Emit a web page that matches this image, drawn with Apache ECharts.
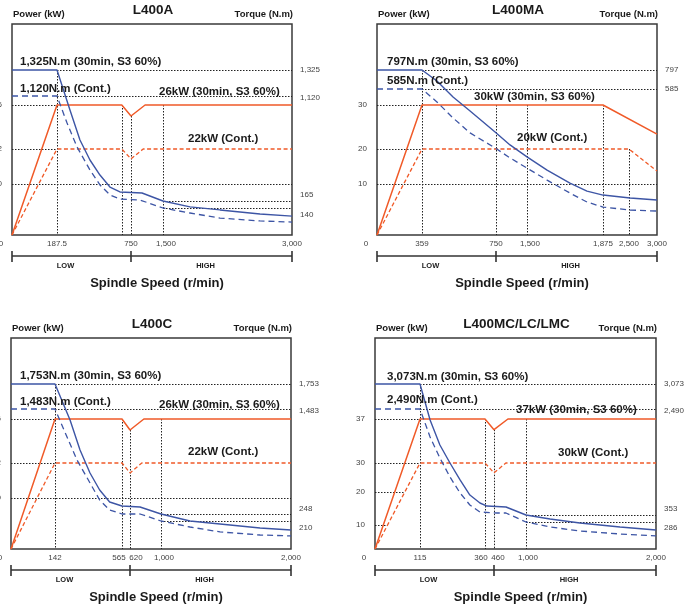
<!DOCTYPE html>
<html>
<head>
<meta charset="utf-8">
<script src="https://cdn.jsdelivr.net/npm/echarts@6/dist/echarts.min.js"></script>
<style>
  html, body { margin: 0; padding: 0; background: #fff; }
  #main { width: 690px; height: 609px; }
</style>
</head>
<body>
<div id="main"></div>
<script>
// ---------- data (speed in r/min, power in kW, torque in N.m) ----------
// L400A
const aSpeedTicks = [0, 187.5, 750, 1500, 3000];
const aPowerTicks = [10, 22, 26];
const aTorqueTicks = [140, 165, 1120, 1325];
const aPowerMax = [[0, 0], [187.5, 26], [680, 26], [750, 25], [1080, 26], [3000, 26]];
const aPowerCont = [[0, 0], [187.5, 22], [680, 22], [750, 18.6], [1035, 22], [3000, 22]];
const aTorqueMax = [[0, 1325], [187.5, 1325], [286, 993], [362, 720], [438, 538], [514, 401], [590, 292], [666, 247], [1008, 238], [1500, 165], [1814, 144], [2163, 130], [2628, 109], [3000, 98]];
const aTorqueCont = [[0, 1120], [187.5, 1120], [264, 874], [340, 656], [438, 447], [514, 311], [590, 220], [666, 183], [961, 174], [1500, 140], [1814, 114], [2163, 88], [2628, 73], [3000, 67]];
const aGears = [0, 750, 3000];

// L400MA
const maSpeedTicks = [0, 359, 750, 1500, 1875, 2500, 3000];
const maPowerTicks = [10, 20, 30];
const maTorqueTicks = [585, 797];
const maPowerMax = [[0, 0], [359, 30], [1875, 30], [3000, 23.4]];
const maPowerCont = [[0, 0], [359, 20], [2500, 20], [3000, 13.7]];
const maTorqueMax = [[0, 797], [359, 797], [438, 674], [523, 553], [613, 497], [745, 413], [1089, 361], [1500, 313], [1599, 260], [1712, 208], [1796, 176], [1875, 160], [2520, 148], [3000, 140]];
const maTorqueCont = [[0, 585], [359, 585], [438, 533], [523, 469], [613, 409], [745, 349], [1089, 309], [1500, 268], [1599, 220], [1712, 168], [1796, 132], [1875, 112], [2520, 100], [3000, 96]];
const maGears = [0, 750, 3000];

// L400C
const cSpeedTicks = [0, 142, 565, 620, 1000, 2000];
const cPowerTicks = [10, 22, 26];
const cTorqueTicks = [210, 248, 1483, 1753];
const cPowerMax = [[0, 0], [142, 26], [565, 26], [620, 25], [790, 26], [2000, 26]];
const cPowerCont = [[0, 0], [142, 22], [565, 22], [620, 18.6], [765, 22], [2000, 22]];
const cTorqueMax = [[0, 1753], [142, 1753], [237, 1354], [300, 1001], [363, 730], [424, 530], [487, 389], [565, 342], [743, 330], [1000, 248], [1223, 210], [1454, 188], [1762, 158], [2000, 143]];
const cTorqueCont = [[0, 1483], [142, 1483], [218, 1154], [281, 883], [363, 613], [424, 413], [487, 295], [565, 248], [743, 248], [1000, 210], [1223, 165], [1454, 128], [1762, 105], [2000, 98]];
const cGears = [0, 620, 2000];

// L400MC/LC/LMC
const mcSpeedTicks = [0, 115, 360, 460, 1000, 2000];
const mcPowerTicks = [10, 20, 30, 37];
const mcTorqueTicks = [286, 353, 2490, 3073];
const mcPowerMax = [[0, 0], [115, 37], [360, 37], [460, 35.3], [695, 37], [2000, 37]];
const mcPowerCont = [[0, 0], [115, 30], [360, 30], [460, 26.6], [660, 30], [2000, 30]];
const mcTorqueMax = [[0, 3073], [115, 3073], [153, 2268], [190, 1764], [228, 1401], [266, 1059], [303, 756], [341, 595], [382, 534], [662, 514], [1000, 353], [1185, 315], [1415, 275], [1723, 233], [2000, 201]];
const mcTorqueCont = [[0, 2490], [115, 2490], [153, 1925], [190, 1502], [228, 1119], [266, 797], [303, 555], [341, 413], [511, 393], [662, 393], [1000, 286], [1185, 233], [1415, 191], [1723, 159], [2000, 138]];
const mcGears = [0, 460, 2000];

// ---------- schematic scales and layout ----------
const FONT = '"Liberation Sans", Arial, Helvetica, sans-serif';
const ORANGE = '#f05a28';
const BLUE = '#3d55a5';

const panels = [
  {
    title: 'L400A', box: [12, 24, 280, 211],
    speedScale: [[0, 0], [187.5, 45], [750, 119], [1500, 151], [3000, 280]],
    powerScale: [[0, 0], [10, 51], [22, 86], [26, 130]],
    torqueScale: [[0, 0], [140, 27], [165, 34], [1120, 139], [1325, 165]],
    speedTicks: aSpeedTicks, powerTicks: aPowerTicks, torqueTicks: aTorqueTicks,
    pMax: aPowerMax, pCont: aPowerCont, tMax: aTorqueMax, tCont: aTorqueCont, gears: aGears,
    hGuides: [['P', 26, 0, 187.5], ['P', 22, 0, 187.5], ['P', 10, 0, 3000], ['T', 1325, 187.5, 3000], ['T', 1120, 187.5, 3000], ['T', 165, 1500, 3000], ['T', 140, 1500, 3000]],
    vGuides: [[187.5, 'T', 1325], [680, 'P', 26], [750, 'P', 25], [1500, 'P', 26]],
    xShift: { 0: -11, 1500: 3 }, yShift: { 165: -6, 140: 7, 1120: 2 },
    notes: [['1,325N.m (30min, S3 60%)', 20, 62], ['1,120N.m (Cont.)', 20, 89], ['26kW (30min, S3 60%)', 159, 92], ['22kW (Cont.)', 188, 139]]
  },
  {
    title: 'L400MA', box: [377, 24, 280, 211],
    speedScale: [[0, 0], [359, 45], [750, 119], [1500, 150], [1875, 226], [2500, 252], [3000, 280]],
    powerScale: [[0, 0], [10, 51], [20, 86], [30, 130]],
    torqueScale: [[0, 0], [585, 146], [797, 165]],
    speedTicks: maSpeedTicks, powerTicks: maPowerTicks, torqueTicks: maTorqueTicks,
    pMax: maPowerMax, pCont: maPowerCont, tMax: maTorqueMax, tCont: maTorqueCont, gears: maGears,
    hGuides: [['P', 30, 0, 359], ['P', 20, 0, 359], ['P', 10, 0, 3000], ['T', 797, 359, 3000], ['T', 585, 359, 3000]],
    vGuides: [[359, 'T', 797], [750, 'P', 30], [1500, 'P', 30], [1875, 'P', 30], [2500, 'P', 20]],
    xShift: { 0: -11, 1500: 3 }, yShift: {},
    notes: [['797N.m (30min, S3 60%)', 387, 62], ['585N.m (Cont.)', 387, 81], ['30kW (30min, S3 60%)', 474, 97], ['20kW (Cont.)', 517, 138]]
  },
  {
    title: 'L400C', box: [11, 338, 280, 211],
    speedScale: [[0, 0], [142, 44], [565, 111], [620, 119], [1000, 150], [2000, 280]],
    powerScale: [[0, 0], [10, 51], [22, 86], [26, 130]],
    torqueScale: [[0, 0], [210, 28], [248, 35], [1483, 140], [1753, 165]],
    speedTicks: cSpeedTicks, powerTicks: cPowerTicks, torqueTicks: cTorqueTicks,
    pMax: cPowerMax, pCont: cPowerCont, tMax: cTorqueMax, tCont: cTorqueCont, gears: cGears,
    hGuides: [['P', 26, 0, 142], ['P', 22, 0, 142], ['P', 10, 0, 2000], ['T', 1753, 142, 2000], ['T', 1483, 142, 2000], ['T', 248, 1000, 2000], ['T', 210, 1000, 2000]],
    vGuides: [[142, 'T', 1753], [565, 'P', 26], [620, 'P', 25], [1000, 'P', 26]],
    xShift: { 0: -11, 565: -3, 620: 6, 1000: 3 }, yShift: { 248: -5, 210: 7, 1483: 2 },
    notes: [['1,753N.m (30min, S3 60%)', 20, 376], ['1,483N.m (Cont.)', 20, 402], ['26kW (30min, S3 60%)', 159, 405], ['22kW (Cont.)', 188, 452]]
  },
  {
    title: 'L400MC/LC/LMC', box: [375, 338, 281, 211],
    speedScale: [[0, 0], [115, 45], [360, 110], [460, 119], [1000, 151], [2000, 281]],
    powerScale: [[0, 0], [10, 24], [20, 57], [30, 86], [37, 130]],
    torqueScale: [[0, 0], [286, 27], [353, 34], [2490, 140], [3073, 165]],
    speedTicks: mcSpeedTicks, powerTicks: mcPowerTicks, torqueTicks: mcTorqueTicks,
    pMax: mcPowerMax, pCont: mcPowerCont, tMax: mcTorqueMax, tCont: mcTorqueCont, gears: mcGears,
    hGuides: [['P', 37, 0, 115], ['P', 30, 0, 115], ['P', 20, 0, 76], ['P', 10, 0, 32], ['T', 3073, 115, 2000], ['T', 2490, 115, 2000], ['T', 353, 1000, 2000], ['T', 286, 1000, 2000]],
    vGuides: [[115, 'T', 3073], [360, 'P', 37], [460, 'P', 35.3], [1000, 'P', 37]],
    xShift: { 0: -11, 360: -4, 460: 4, 1000: 2 }, yShift: { 353: -6, 286: 6, 2490: 2 },
    notes: [['3,073N.m (30min, S3 60%)', 387, 377], ['2,490N.m (Cont.)', 387, 400], ['37kW (30min, S3 60%)', 516, 410], ['30kW (Cont.)', 558, 453]]
  }
];

// piecewise linear schematic scale
function warp(v, stops) {
  let i = 1;
  while (i < stops.length - 1 && v > stops[i][0]) i++;
  const [v0, p0] = stops[i - 1], [v1, p1] = stops[i];
  return p0 + (v - v0) / (v1 - v0) * (p1 - p0);
}
function nearest(arr, v) {
  let k = 0;
  arr.forEach((a, i) => { if (Math.abs(a - v) < Math.abs(arr[k] - v)) k = i; });
  return k;
}
function fmt(n) { return n.toLocaleString('en-US'); }
function tagName(d) { return 's' + (d < 0 ? 'm' : 'p') + Math.abs(d); }
function shiftRich(base, shifts, vertical) {
  const rich = {};
  Object.values(shifts).forEach(d => {
    const pad = vertical
      ? (d > 0 ? [2 * d, 0, 0, 0] : [0, 0, -2 * d, 0])
      : (d > 0 ? [0, 0, 0, 2 * d] : [0, -2 * d, 0, 0]);
    rich[tagName(d)] = Object.assign({ padding: pad }, base);
  });
  return rich;
}

const tickFont = { fontSize: 8, color: '#444', fontFamily: FONT };
const grid = [], xAxis = [], yAxis = [], series = [];

panels.forEach((p, i) => {
  const [left, top, w, h] = p.box;
  const X = v => warp(v, p.speedScale);
  const P = v => warp(v, p.powerScale);
  const T = v => warp(v, p.torqueScale);
  const xVals = p.speedTicks.map(X);
  const pVals = p.powerTicks.map(P);
  const tVals = p.torqueTicks.map(T);

  grid.push({
    left, top, width: w, height: h, show: true, borderColor: '#3a3a3a', borderWidth: 1.5,
    containLabel: false, outerBoundsMode: 'none'
  });

  xAxis.push({
    type: 'value', gridIndex: i, min: 0, max: w,
    axisLine: { show: false }, axisTick: { show: false }, splitLine: { show: false },
    axisLabel: Object.assign({
      customValues: xVals, margin: 5,
      formatter: v => {
        const s = p.speedTicks[nearest(xVals, v)];
        const d = p.xShift[s] || 0;
        return d ? '{' + tagName(d) + '|' + fmt(s) + '}' : fmt(s);
      },
      rich: shiftRich(tickFont, p.xShift, false)
    }, tickFont)
  });

  yAxis.push({
    type: 'value', gridIndex: i, min: 0, max: h, position: 'left',
    axisLine: { show: false }, axisTick: { show: false }, splitLine: { show: false },
    axisLabel: Object.assign({
      customValues: pVals, margin: 10,
      formatter: v => fmt(p.powerTicks[nearest(pVals, v)])
    }, tickFont)
  });
  yAxis.push({
    type: 'value', gridIndex: i, min: 0, max: h, position: 'right',
    axisLine: { show: false }, axisTick: { show: false }, splitLine: { show: false },
    axisLabel: Object.assign({
      customValues: tVals, margin: 8,
      formatter: v => {
        const t = p.torqueTicks[nearest(tVals, v)];
        const d = p.yShift[t] || 0;
        return d ? '{' + tagName(d) + '|' + fmt(t) + '}' : fmt(t);
      },
      rich: shiftRich(tickFont, p.yShift, true)
    }, tickFont)
  });

  const axes = { xAxisIndex: i, yAxisIndex: 2 * i };
  const Y = (kind, v) => (kind === 'P' ? P(v) : T(v));
  const guides = [];
  p.hGuides.forEach(([kind, v, a, b]) => guides.push({ coords: [[X(a), Y(kind, v)], [X(b), Y(kind, v)]] }));
  p.vGuides.forEach(([s, kind, v]) => guides.push({ coords: [[X(s), Y(kind, v)], [X(s), 0]] }));

  series.push(Object.assign({
    type: 'lines', coordinateSystem: 'cartesian2d', silent: true, z: 1,
    lineStyle: { color: '#222', width: 1, type: [1.5, 1.5], opacity: 1 },
    data: guides
  }, axes));

  const curve = (data, conv, color, dash, width) => Object.assign({
    type: 'line', showSymbol: false, silent: true, z: 3,
    lineStyle: { color, width, type: dash },
    data: data.map(([s, v]) => [X(s), conv(v)])
  }, axes);

  series.push(curve(p.pCont, P, ORANGE, [4, 2.5], 1.3));
  series.push(curve(p.pMax, P, ORANGE, 'solid', 1.5));
  series.push(curve(p.tCont, T, BLUE, [6, 4], 1.3));
  series.push(curve(p.tMax, T, BLUE, 'solid', 1.4));
});

const chart = echarts.init(document.getElementById('main'), null, { renderer: 'canvas' });
chart.setOption({
  animation: false,
  backgroundColor: '#fff',
  textStyle: { fontFamily: FONT },
  grid, xAxis, yAxis, series
});

// titles, notes and gear range bars
const graphic = [];
const txt = (text, x, y, size, align, extra) => graphic.push({
  type: 'text', x, y, silent: true, z: 10,
  style: Object.assign({ text, fill: '#1a1a1a', fontFamily: FONT, fontWeight: 'bold', fontSize: size, align, verticalAlign: 'middle' }, extra || {})
});

panels.forEach((p, i) => {
  const [left, top, w, h] = p.box;
  txt(p.title, left + w / 2 + 1, top - 14, 13.5, 'center');
  txt('Power (kW)', left + 1, top - 10, 9.5, 'left');
  txt('Torque (N.m)', left + w + 1, top - 10, 9.5, 'right');
  p.notes.forEach(([t, x, y]) => txt(t, x, y, 11.5, 'left'));

  const px = s => chart.convertToPixel({ xAxisIndex: i }, warp(s, p.speedScale));
  const barY = top + h + 21;
  const xs = p.gears.map(px);
  graphic.push({ type: 'line', silent: true, shape: { x1: xs[0], y1: barY, x2: xs[xs.length - 1], y2: barY }, style: { stroke: '#333', lineWidth: 1.6 } });
  xs.forEach(x => graphic.push({ type: 'line', silent: true, shape: { x1: x, y1: barY - 5, x2: x, y2: barY + 6 }, style: { stroke: '#333', lineWidth: 1.6 } }));
  ['LOW', 'HIGH'].forEach((lab, k) => txt(lab, (xs[k] + xs[k + 1]) / 2 - 6, barY + 10, 7.5, 'center'));
  txt('Spindle Speed (r/min)', left + w / 2 + 5, top + h + 48, 13, 'center');
});

chart.setOption({ graphic });
</script>
</body>
</html>
